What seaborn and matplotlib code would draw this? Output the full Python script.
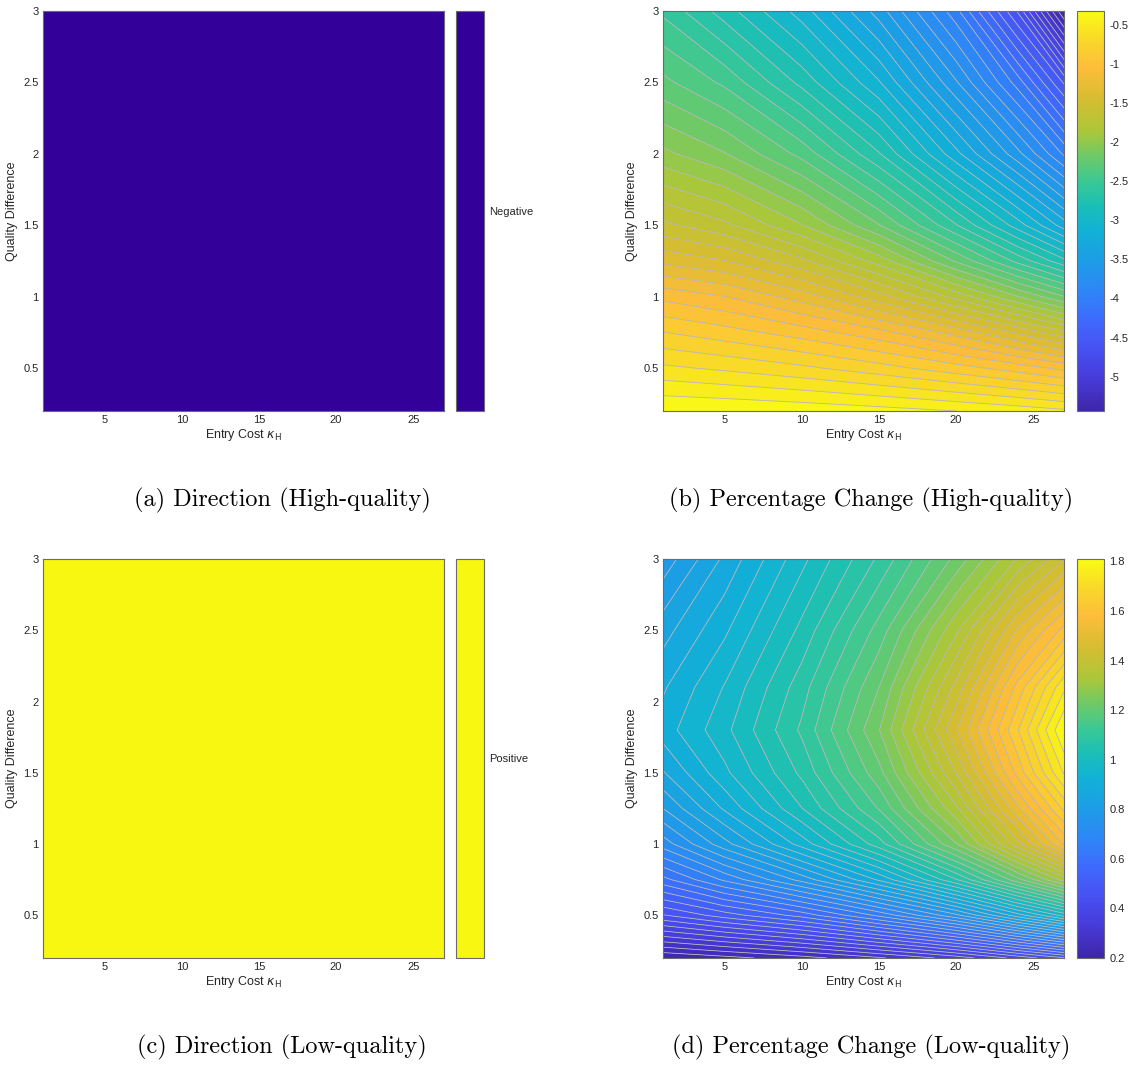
import numpy as np
import matplotlib
matplotlib.use("Agg")
import matplotlib.pyplot as plt
from matplotlib.colors import ListedColormap, Normalize, LinearSegmentedColormap
from matplotlib.cm import ScalarMappable
from matplotlib.ticker import FuncFormatter
import seaborn as sns

# ---------------- data ----------------
kappa_grid = [1, 5, 10, 15, 20, 24, 27]            # Entry cost kappa_H
quality_grid_high = [0.2, 0.5, 0.75, 1.0, 1.25, 1.5, 2.0, 2.5, 3.0]
quality_grid_low = [0.2, 0.5, 0.75, 1.0, 1.25, 1.5, 1.8, 2.1, 2.5, 3.0]

# percentage change, high-quality (rows: quality, cols: kappa)
pct_high = [
    [-0.32, -0.33, -0.35, -0.38, -0.42, -0.46, -0.50],
    [-0.60, -0.64, -0.70, -0.78, -0.88, -0.97, -1.05],
    [-0.82, -0.88, -0.97, -1.09, -1.26, -1.44, -1.60],
    [-1.05, -1.12, -1.27, -1.48, -1.76, -2.02, -2.22],
    [-1.35, -1.42, -1.60, -1.87, -2.24, -2.56, -2.80],
    [-1.60, -1.70, -1.92, -2.22, -2.62, -2.98, -3.28],
    [-2.00, -2.12, -2.36, -2.72, -3.20, -3.60, -3.95],
    [-2.30, -2.45, -2.76, -3.12, -3.62, -4.08, -4.55],
    [-2.55, -2.78, -3.08, -3.48, -4.00, -4.65, -5.44],
]

# percentage change, low-quality
pct_low = [
    [0.20, 0.22, 0.25, 0.29, 0.34, 0.40, 0.45],
    [0.45, 0.50, 0.56, 0.65, 0.76, 0.88, 0.97],
    [0.60, 0.68, 0.78, 0.90, 1.05, 1.20, 1.32],
    [0.72, 0.82, 0.94, 1.07, 1.24, 1.42, 1.56],
    [0.80, 0.90, 1.02, 1.15, 1.33, 1.52, 1.66],
    [0.86, 0.95, 1.06, 1.20, 1.40, 1.60, 1.75],
    [0.91, 0.98, 1.09, 1.24, 1.46, 1.65, 1.81],
    [0.89, 0.96, 1.07, 1.21, 1.41, 1.60, 1.74],
    [0.85, 0.92, 1.03, 1.16, 1.33, 1.50, 1.60],
    [0.78, 0.87, 0.98, 1.09, 1.22, 1.34, 1.43],
]

direction_labels = ["Negative", "Positive"]
captions = ["(a) Direction (High-quality)", "(b) Percentage Change (High-quality)",
            "(c) Direction (Low-quality)", "(d) Percentage Change (Low-quality)"]
xticks = [5, 10, 15, 20, 25]
yticks = [0.5, 1, 1.5, 2, 2.5, 3]
cbar_ticks_high = [-5, -4.5, -4, -3.5, -3, -2.5, -2, -1.5, -1, -0.5]
cbar_ticks_low = [0.2, 0.4, 0.6, 0.8, 1.0, 1.2, 1.4, 1.6, 1.8]

# ---------------- style ----------------
sns.set_theme(style="white")
plt.rcParams["font.family"] = ["Liberation Sans", "DejaVu Sans"]
plt.rcParams["axes.unicode_minus"] = False
plt.rcParams["mathtext.fontset"] = "dejavusans"

parula_keys = [
    (0.00, (0.2422, 0.1504, 0.6603)),
    (0.08, (0.2760, 0.2300, 0.8500)),
    (0.16, (0.2810, 0.3228, 0.9579)),
    (0.23, (0.2400, 0.4200, 0.9900)),
    (0.30, (0.1786, 0.5289, 0.9682)),
    (0.38, (0.1100, 0.6200, 0.9000)),
    (0.45, (0.0689, 0.6948, 0.8394)),
    (0.51, (0.1000, 0.7450, 0.7200)),
    (0.57, (0.2161, 0.7843, 0.5923)),
    (0.64, (0.4400, 0.7900, 0.4000)),
    (0.70, (0.6720, 0.7793, 0.2227)),
    (0.78, (0.8400, 0.7400, 0.1900)),
    (0.86, (0.9970, 0.7400, 0.2300)),
    (0.93, (0.9750, 0.8500, 0.1600)),
    (1.00, (0.9769, 0.9839, 0.0805)),
]
parula = LinearSegmentedColormap.from_list("parula", parula_keys, N=256)
sns.set_palette(sns.color_palette([c for _, c in parula_keys]))

neg_color = "#330099"
pos_color = "#F7F712"
edge_gray = "#6b6b6b"
text_dark = "#262626"

W, H = 1135, 1065
fig = plt.figure(figsize=(W / 100, H / 100), dpi=100)


def frac(left, top, right, bottom):
    return [left / W, 1 - bottom / H, (right - left) / W, (bottom - top) / H]


fmt = FuncFormatter(lambda v, p: "%g" % v)


def style_axes(ax, ticklen):
    ax.set_xlim(kappa_grid[0], kappa_grid[-1])
    ax.set_xticks(xticks)
    ax.set_yticks(yticks)
    ax.xaxis.set_major_formatter(fmt)
    ax.yaxis.set_major_formatter(fmt)
    ax.tick_params(direction="in", length=ticklen, width=0.8, color=text_dark,
                   labelsize=8, labelcolor=text_dark, top=True, right=True,
                   bottom=True, left=True, pad=3)
    for s in ax.spines.values():
        s.set_color(edge_gray)
        s.set_linewidth(0.8)
        s.set_visible(True)
    ax.set_xlabel(r"Entry Cost $\kappa_{\mathrm{H}}$", fontsize=9, color=text_dark, labelpad=1)
    ax.set_ylabel("Quality Difference", fontsize=9, color=text_dark, labelpad=4)


def style_cbar(cb):
    cb.outline.set_edgecolor(edge_gray)
    cb.outline.set_linewidth(0.8)
    cb.ax.tick_params(direction="in", length=4, width=0.8, color=text_dark,
                      labelsize=8, labelcolor=text_dark, pad=4)


rows = [(11, 411), (559, 958)]
cols = [(43, 444, 456, 484), (663, 1064, 1077, 1104)]

# ---------------- direction panels ----------------
for r, (pct, qgrid, label, color) in enumerate([
        (pct_high, quality_grid_high, direction_labels[0], neg_color),
        (pct_low, quality_grid_low, direction_labels[1], pos_color)]):
    top, bottom = rows[r]
    l, rgt, cl, cr = cols[0]
    ax = fig.add_axes(frac(l, top, rgt, bottom))
    cax = fig.add_axes(frac(cl, top, cr, bottom))
    sign = np.sign(np.array(pct))
    cmap1 = ListedColormap([color])
    ax.pcolormesh(kappa_grid, qgrid, sign, cmap=cmap1, shading="gouraud")
    style_axes(ax, 0)
    ax.set_ylim(qgrid[0], qgrid[-1])
    sm = ScalarMappable(norm=Normalize(0, 1), cmap=cmap1)
    cb = fig.colorbar(sm, cax=cax, ticks=[0.5])
    cb.ax.set_yticklabels([label])
    style_cbar(cb)
    cb.ax.tick_params(length=3, color="#555555")

# ---------------- percentage change panels ----------------
for r, (pct, qgrid, cticks) in enumerate([
        (pct_high, quality_grid_high, cbar_ticks_high),
        (pct_low, quality_grid_low, cbar_ticks_low)]):
    top, bottom = rows[r]
    l, rgt, cl, cr = cols[1]
    ax = fig.add_axes(frac(l, top, rgt, bottom))
    cax = fig.add_axes(frac(cl, top, cr, bottom))
    Z = np.array(pct)
    zmin, zmax = Z.min(), Z.max()
    levels = np.linspace(zmin, zmax, 52)
    ax.contourf(kappa_grid, qgrid, Z, levels=levels, cmap=parula,
                vmin=zmin, vmax=zmax, antialiased=True)
    ax.contour(kappa_grid, qgrid, Z, levels=levels[1:-1], colors="#b4b4b4",
               linewidths=0.6, linestyles="solid")
    style_axes(ax, 4)
    ax.set_ylim(qgrid[0], qgrid[-1])
    sm = ScalarMappable(norm=Normalize(zmin, zmax), cmap=parula)
    cb = fig.colorbar(sm, cax=cax, ticks=cticks)
    cb.ax.yaxis.set_major_formatter(fmt)
    style_cbar(cb)

# ---------------- captions ----------------
cap_pos = [(282, 500), (871, 500), (282, 1047), (871, 1047)]
for txt, (cx, cy) in zip(captions, cap_pos):
    fig.text(cx / W, 1 - cy / H, txt, ha="center", va="center",
             fontsize=17.5, family=["cmr10", "DejaVu Serif"], color="black")

fig.savefig("out.png", dpi=100)
